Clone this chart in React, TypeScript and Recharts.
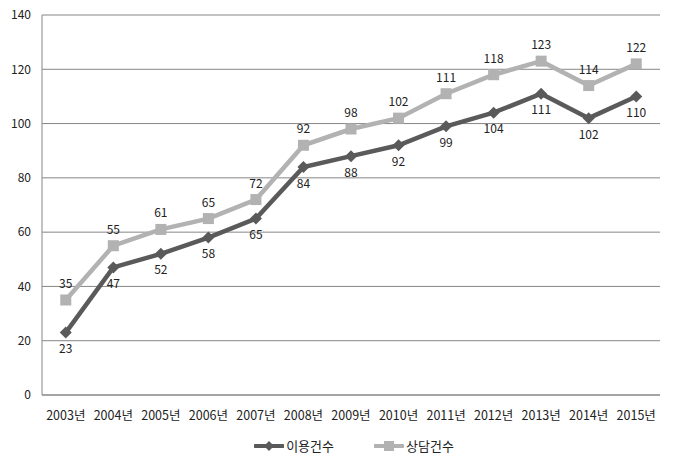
import React from "react";
import { LineChart, Line, XAxis, YAxis, CartesianGrid, Legend, LabelList } from "recharts";

const years = ["2003년","2004년","2005년","2006년","2007년","2008년","2009년","2010년","2011년","2012년","2013년","2014년","2015년"];
const usage = [23,47,52,58,65,84,88,92,99,104,111,102,110];
const consult = [35,55,61,65,72,92,98,102,111,118,123,114,122];
const yTicks = [0,20,40,60,80,100,120,140];

const data = years.map((y, i) => ({ year: y, usage: usage[i], consult: consult[i] }));

const DARK = "#5a5a5a";
const LIGHT = "#b2b2b2";
const FONT = "'Noto Sans CJK KR', 'Noto Sans', sans-serif";

const Diamond = (props: any) => {
  const { cx, cy } = props;
  if (cx == null || cy == null) return null;
  const r = 6;
  return <path d={`M${cx},${cy - r}L${cx + r},${cy}L${cx},${cy + r}L${cx - r},${cy}Z`} fill={DARK} />;
};
const Square = (props: any) => {
  const { cx, cy } = props;
  if (cx == null || cy == null) return null;
  const r = 5.5;
  return <rect x={cx - r} y={cy - r} width={2 * r} height={2 * r} fill={LIGHT} />;
};

const LegendContent = () => (
  <div style={{ display: "flex", justifyContent: "center", gap: 40, paddingLeft: 34, fontFamily: FONT, fontSize: 13, color: "#222" }}>
    <div style={{ display: "flex", alignItems: "center" }}>
      <svg width={30} height={12}>
        <line x1={1} y1={6} x2={29} y2={6} stroke={DARK} strokeWidth={4} strokeLinecap="round" />
        <path d="M15,1L20,6L15,11L10,6Z" fill={DARK} />
      </svg>
      <span style={{ marginLeft: 2 }}>이용건수</span>
    </div>
    <div style={{ display: "flex", alignItems: "center" }}>
      <svg width={30} height={12}>
        <line x1={1} y1={6} x2={29} y2={6} stroke={LIGHT} strokeWidth={4} strokeLinecap="round" />
        <rect x={10} y={1} width={10} height={10} fill={LIGHT} />
      </svg>
      <span style={{ marginLeft: 2 }}>상담건수</span>
    </div>
  </div>
);

export default function App() {
  return (
    <div style={{ position: "absolute", left: 0, top: 0, background: "#fff" }}>
      <LineChart width={674} height={468} data={data} margin={{ top: 15, right: 14, left: 0, bottom: 43 }}>
        <CartesianGrid vertical={false} stroke="#868686" strokeWidth={1} />
        <XAxis
          dataKey="year"
          scale="band"
          tickLine={false}
          axisLine={{ stroke: "#868686" }}
          tick={{ fill: "#222", fontSize: 12.5, fontFamily: FONT }}
          tickMargin={10}
          height={30}
          interval={0}
        />
        <YAxis
          domain={[0, 140]}
          ticks={yTicks}
          width={42}
          tickLine={false}
          axisLine={{ stroke: "#868686" }}
          tick={{ fill: "#222", fontSize: 12, fontFamily: FONT }}
          tickSize={0}
          tickMargin={11}
        />
        <Legend
          layout="horizontal"
          verticalAlign="middle"
          align="center"
          wrapperStyle={{ top: 436, left: 0, width: 674 }}
          content={<LegendContent />}
        />
        <Line
          type="linear"
          dataKey="consult"
          name="상담건수"
          stroke={LIGHT}
          strokeWidth={4.5}
          dot={<Square />}
          activeDot={false}
          isAnimationActive={false}
        >
          <LabelList dataKey="consult" position="top" offset={12} fill="#222" fontSize={12} fontFamily={FONT} />
        </Line>
        <Line
          type="linear"
          dataKey="usage"
          name="이용건수"
          stroke={DARK}
          strokeWidth={4.5}
          dot={<Diamond />}
          activeDot={false}
          isAnimationActive={false}
        >
          <LabelList dataKey="usage" position="bottom" offset={12} fill="#222" fontSize={12} fontFamily={FONT} />
        </Line>
      </LineChart>
    </div>
  );
}
